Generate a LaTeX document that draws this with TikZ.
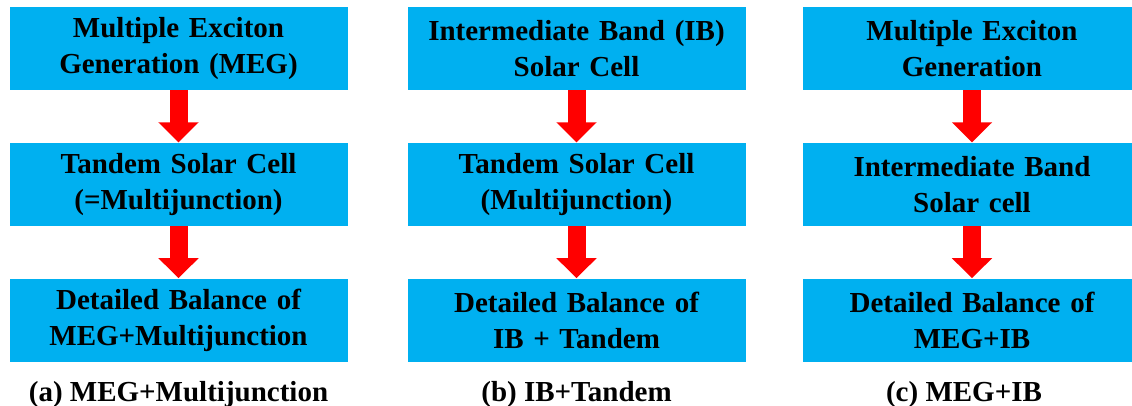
\documentclass[tikz,border=0pt]{standalone}
\usepackage{fontspec}
\setmainfont{Liberation Serif}[BoldFont={Liberation Serif Bold}]
\usetikzlibrary{positioning,arrows.meta}
\definecolor{boxblue}{RGB}{0,176,240}
\tikzstyle{stage} = [rectangle, fill=boxblue, text width=165pt, align=center, minimum width=169pt, minimum height=41.5pt, inner sep=0pt, font=\fontsize{14.5pt}{18pt}\selectfont\bfseries]
\tikzstyle{flow} = [draw=red, line width=9pt, -{Triangle[width=19.5pt,length=10pt]}]
\tikzstyle{caption} = [font=\fontsize{14.5pt}{16pt}\selectfont\bfseries]

\begin{document}
\begin{tikzpicture}[x=0.5pt, y=0.5pt, node distance=26pt]
    \useasboundingbox (0,0) rectangle (1132,-406);
    % Place nodes
    \node [stage] (meg) at (178.5,-48.5) {Multiple Exciton\\Generation (MEG)};
    \node [stage, below=of meg] (tandem-a) {Tandem Solar Cell\\(=Multijunction)};
    \node [stage, below=of tandem-a] (balance-a) {Detailed Balance of\\MEG+Multijunction};
    \node [caption, below=6pt of balance-a] (cap-a) {(a) MEG+Multijunction};

    \node [stage] (ib) at (576.5,-48.5) {Intermediate Band (IB)\\Solar Cell};
    \node [stage, below=of ib] (tandem-b) {Tandem Solar Cell\\(Multijunction)};
    \node [stage, below=of tandem-b] (balance-b) {Detailed Balance of\\IB + Tandem};
    \node [caption, below=6pt of balance-b] (cap-b) {(b) IB+Tandem};

    \node [stage] (meg-c) at (972,-48.5) {Multiple Exciton\\Generation};
    \node [stage, below=of meg-c] (ib-c) {Intermediate Band\\Solar cell};
    \node [stage, below=of ib-c] (balance-c) {Detailed Balance of\\MEG+IB};
    \node [caption, below=6pt of balance-c, xshift=-4pt] (cap-c) {(c) MEG+IB};
    % Draw edges
    \path [flow] (meg) -- (tandem-a);
    \path [flow] (tandem-a) -- (balance-a);
    \path [flow] (ib) -- (tandem-b);
    \path [flow] (tandem-b) -- (balance-b);
    \path [flow] (meg-c) -- (ib-c);
    \path [flow] (ib-c) -- (balance-c);
\end{tikzpicture}
\end{document}
